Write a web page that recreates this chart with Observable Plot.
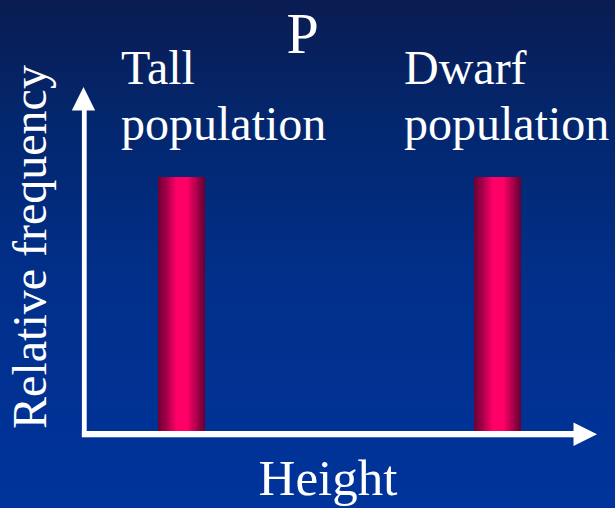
<!DOCTYPE html>
<html>
<head>
<meta charset="utf-8">
<script src="https://cdn.jsdelivr.net/npm/d3@7"></script>
<script src="https://cdn.jsdelivr.net/npm/@observablehq/plot@0.6"></script>
<style>
  html, body { margin: 0; padding: 0; background: #00339a; }
  #chart svg { display: block; }
</style>
</head>
<body>
<div id="chart"></div>
<script>
// Two pure-breeding parental populations (P generation): every plant of a
// population has the same height, so each shows as a single column.
const populations = ["Tall population", "Dwarf population"];
const frequency = [1, 1];
const title = "P";
const xLabel = "Height";
const yLabel = "Relative frequency";
const yAxisTop = 1.35; // how far the frequency arrow reaches, in frequency units

const data = populations.map((population, i) => ({population, frequency: frequency[i]}));

const W = 615, H = 508;
const serif = "'Liberation Serif', 'Times New Roman', Times, serif";

// Gradients: dark-to-navy slide background and a cylinder shading for the columns.
function defs() {
  const g = d3.create("svg:g");
  const d = g.append("defs");
  const bg = d.append("linearGradient").attr("id", "bg").attr("x1", 0).attr("y1", 0).attr("x2", 0).attr("y2", 1);
  [["0%", "#0a1c52"], ["25%", "#03276f"], ["55%", "#012f8a"], ["100%", "#00349c"]]
    .forEach(([o, c]) => bg.append("stop").attr("offset", o).attr("stop-color", c));
  const cyl = d.append("linearGradient").attr("id", "cylinder").attr("x1", 0).attr("y1", 0).attr("x2", 1).attr("y2", 0);
  [["0%", "#6c0034"], ["15%", "#9a0046"], ["40%", "#ff0066"], ["62%", "#ff0066"], ["85%", "#a00048"], ["100%", "#640030"]]
    .forEach(([o, c]) => cyl.append("stop").attr("offset", o).attr("stop-color", c));
  g.append("rect").attr("width", W).attr("height", H).attr("fill", "url(#bg)");
  return g.node();
}

// White axis arrows with solid triangular heads.
function axes(index, {y}) {
  const g = d3.create("svg:g").attr("fill", "white");
  const ox = 84.3, oy = y(0);
  const xTip = 597, yTip = y(yAxisTop);
  const head = 23.5, half = 11.7;
  g.append("rect").attr("x", ox - 2.4).attr("y", yTip + head - 1).attr("width", 4.8).attr("height", oy + 3 - (yTip + head - 1));
  g.append("rect").attr("x", ox - 2.4).attr("y", oy - 3).attr("width", xTip - head + 1 - (ox - 2.4)).attr("height", 6.3);
  g.append("path").attr("d", `M${ox - 0.8},${yTip}L${ox - 0.8 + half},${yTip + head}L${ox - 0.8 - half},${yTip + head}Z`);
  g.append("path").attr("d", `M${xTip},${oy + 0.2}L${xTip - head},${oy + 0.2 - half}L${xTip - head},${oy + 0.2 + half}Z`);
  return g.node();
}

const labelText = (d) => d.replace(" ", "\n");
const popLabel = (name, dx) => Plot.text([name], {
  x: (d) => d,
  text: labelText,
  frameAnchor: "top",
  dy: 87,
  dx,
  textAnchor: "start",
  lineAnchor: "bottom",
  lineHeight: 56 / 48,
  fontSize: 48,
  fill: "white"
});

const chart = Plot.plot({
  width: W,
  height: H,
  // margins place the title, axis-label baselines; the scales carry explicit ranges
  marginTop: 52,
  marginBottom: 14,
  marginLeft: 45,
  marginRight: 0,
  style: {fontFamily: serif, background: "transparent", overflow: "visible"},
  x: {type: "band", domain: populations, range: [23, 656], paddingInner: 0.85, paddingOuter: 0.425, axis: null},
  y: {domain: [0, 1], range: [434, 177], axis: null},
  marks: [
    defs,
    Plot.barY(data, {x: "population", y: "frequency", fill: "url(#cylinder)"}),
    axes,
    popLabel(populations[0], -61),
    popLabel(populations[1], -94),
    Plot.text([title], {frameAnchor: "top", dx: -28, lineAnchor: "bottom", fontSize: 58, fill: "white"}),
    Plot.text([xLabel], {frameAnchor: "bottom", dx: -2.5, lineAnchor: "bottom", fontSize: 51, fill: "white"}),
    Plot.text([yLabel], {frameAnchor: "left", textAnchor: "middle", dy: -26.5, rotate: -90, lineAnchor: "bottom", fontSize: 48, fill: "white"})
  ]
});

document.getElementById("chart").append(chart);
</script>
</body>
</html>
